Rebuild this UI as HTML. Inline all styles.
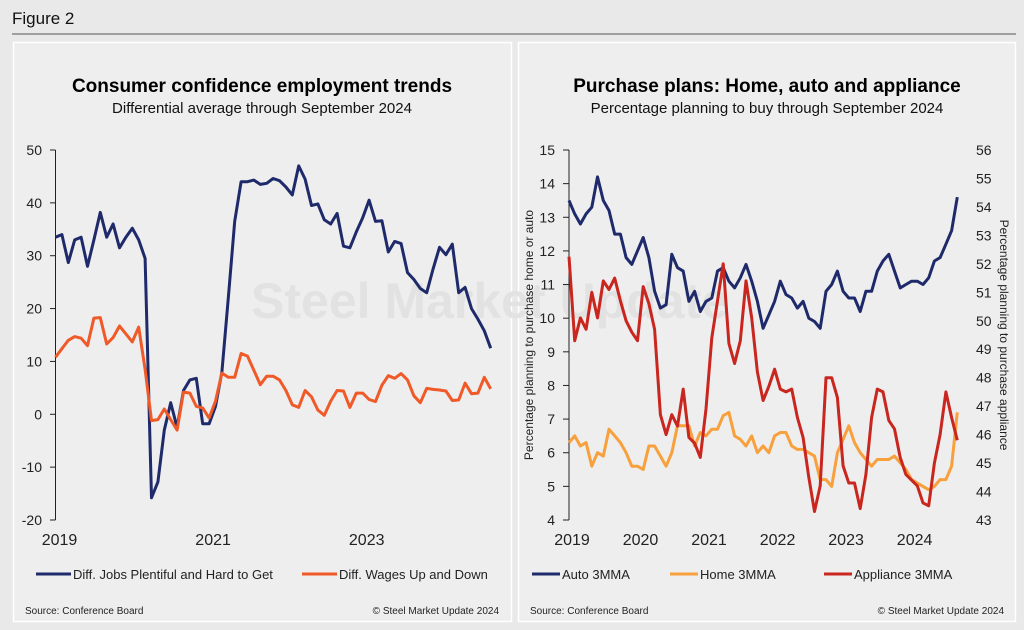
<!DOCTYPE html>
<html><head><meta charset="utf-8"><style>
html,body{margin:0;padding:0;background:#e9e9e9;}
svg{display:block;font-family:"Liberation Sans",Arial,sans-serif;}
</style></head><body>
<svg id="fig" width="1024" height="630" viewBox="0 0 1024 630">
<rect x="0" y="0" width="1024" height="630" fill="#e9e9e9"/>
<text x="12" y="24" font-size="17" fill="#111">Figure 2</text>
<line x1="12" y1="34" x2="1016" y2="34" stroke="#555" stroke-width="1"/>
<rect x="13.5" y="42.5" width="498" height="579" fill="#eeeeee" stroke="#fff" stroke-width="1.5"/>
<rect x="518.5" y="42.5" width="497" height="579" fill="#eeeeee" stroke="#fff" stroke-width="1.5"/>
<text x="490" y="318" font-size="50" font-weight="bold" fill="#e2e2e2" text-anchor="middle">Steel Market Update</text>
<text x="262" y="92" font-size="19" font-weight="bold" text-anchor="middle" fill="#000">Consumer confidence employment trends</text>
<text x="262" y="113" font-size="15" text-anchor="middle" fill="#111">Differential average through September 2024</text>
<text x="767" y="92" font-size="19" font-weight="bold" text-anchor="middle" fill="#000">Purchase plans: Home, auto and appliance</text>
<text x="767" y="113" font-size="15" text-anchor="middle" fill="#111">Percentage planning to buy through September 2024</text>
<g id="L"></g><g id="R"></g>
<g>
<line x1="36" y1="574" x2="71" y2="574" stroke="#1f2a6b" stroke-width="3"/>
<text x="73" y="579" font-size="13" fill="#222">Diff. Jobs Plentiful and Hard to Get</text>
<line x1="302" y1="574" x2="337" y2="574" stroke="#f05a28" stroke-width="3"/>
<text x="339" y="579" font-size="13" fill="#222">Diff. Wages Up and Down</text>
</g>
<g>
<line x1="532" y1="574" x2="560" y2="574" stroke="#1f2a6b" stroke-width="3"/>
<text x="562" y="579" font-size="13" fill="#222">Auto 3MMA</text>
<line x1="670" y1="574" x2="698" y2="574" stroke="#f7a03c" stroke-width="3"/>
<text x="700" y="579" font-size="13" fill="#222">Home 3MMA</text>
<line x1="824" y1="574" x2="852" y2="574" stroke="#c8261e" stroke-width="3"/>
<text x="854" y="579" font-size="13" fill="#222">Appliance 3MMA</text>
</g>
<text x="25" y="614" font-size="10" fill="#222">Source: Conference Board</text>
<text x="499" y="614" font-size="10" fill="#222" text-anchor="end">© Steel Market Update 2024</text>
<text x="530" y="614" font-size="10" fill="#222">Source: Conference Board</text>
<text x="1004" y="614" font-size="10" fill="#222" text-anchor="end">© Steel Market Update 2024</text>
</svg>
<script>
const jobs=[33.5,34,28.7,33,33.5,28,33,38.2,33.5,36,31.5,33.5,35.2,33,29.5,-15.8,-12.8,-3,2.2,-2.5,4.5,6.5,6.8,-1.8,-1.8,1.5,8,22,36.5,44,44,44.3,43.5,43.7,44.6,44.2,43,41.5,47,44.5,39.5,39.8,36.8,36,38,31.8,31.5,34.5,37.2,40.5,36.5,36.6,30.7,32.7,32.3,26.8,25.5,23.8,23,27.5,31.6,30.2,32.2,23,24,20,18,15.8,12.5];
const wages=[10.8,12.4,14,14.7,14.4,13,18.2,18.3,13.3,14.5,16.7,15.2,13.7,16.5,8.5,-1.2,-1,1,-1,-3,4.2,4,1.5,1.2,-0.7,2.5,7.8,7,7,11.5,11,8.3,5.6,7.2,7.2,6.5,4.5,1.8,1.3,4.5,3.3,0.8,-0.2,2.5,4.5,4.4,1.3,4,4,2.8,2.4,5.5,7.3,6.8,7.7,6.5,3.5,2.2,4.9,4.7,4.6,4.4,2.6,2.7,5.9,3.9,4,7,4.8];
const leftTicks=[-20,-10,0,10,20,30,40,50];
const leftYears=["2019","2021","2023"];
const auto=[13.5,13.1,12.8,13.1,13.3,14.2,13.5,13.2,12.5,12.5,11.8,11.6,12,12.4,11.8,10.8,10.3,10.4,11.9,11.5,11.4,10.5,10.8,10.2,10.5,10.6,11.4,11.5,11.1,10.9,11.2,11.6,11.1,10.5,9.7,10.1,10.5,11.1,10.7,10.6,10.3,10.5,10,9.9,9.7,10.8,11,11.4,10.8,10.6,10.6,10.2,10.8,10.8,11.4,11.7,11.9,11.4,10.9,11,11.1,11.1,11,11.2,11.7,11.8,12.2,12.6,13.6];
const home=[6.3,6.5,6.2,6.3,5.6,6,5.9,6.7,6.5,6.3,6,5.6,5.6,5.5,6.2,6.2,5.9,5.6,6,6.8,6.8,6.8,6.2,6.6,6.5,6.7,6.7,7.1,7.2,6.5,6.4,6.2,6.5,6,6.2,6,6.5,6.6,6.6,6.2,6.1,6.1,6,5.9,5.2,5.2,5,6,6.4,6.8,6.3,6,5.8,5.6,5.8,5.8,5.8,5.9,5.7,5.5,5.2,5.1,5,4.9,5,5.2,5.2,5.6,7.2];
const appliance=[52.25,49.3,50.1,49.7,51,50.1,51.4,51.1,51.5,50.7,50,49.6,49.3,51.2,50.6,49.7,46.7,46,46.7,46.3,47.6,45.9,45.7,45.2,46.9,49.4,50.7,52,49.2,48.5,49.3,51.4,50.1,48.2,47.2,47.7,48.3,47.6,47.5,47.6,46.6,45.9,44.5,43.3,44.2,48,48,47.3,44.9,44.3,44.3,43.4,44.6,46.6,47.6,47.5,46.5,46.2,45.2,44.6,44.4,44.2,43.6,43.5,45,46,47.5,46.6,45.8];
const rightLeftTicks=[4,5,6,7,8,9,10,11,12,13,14,15];
const rightRightTicks=[43,44,45,46,47,48,49,50,51,52,53,54,55,56];
const rightYears=["2019","2020","2021","2022","2023","2024"];

const NS="http://www.w3.org/2000/svg";
function mk(parent,tag,attrs,txt){const e=document.createElementNS(NS,tag);for(const k in attrs)e.setAttribute(k,attrs[k]);if(txt!==undefined)e.textContent=txt;parent.appendChild(e);return e;}

// Left chart
const L=document.getElementById('L');
const lx=i=>55.5+i*6.4, ly=v=>520-(v+20)*370/70;
mk(L,'line',{x1:55.5,y1:150,x2:55.5,y2:520,stroke:'#222','stroke-width':1});
leftTicks.forEach(t=>{mk(L,'line',{x1:50,y1:ly(t),x2:55.5,y2:ly(t),stroke:'#222'});
 const e=mk(L,'text',{x:42,y:ly(t)+5,'font-size':14,'text-anchor':'end',fill:'#222'},String(t));
 });
leftYears.forEach((y,k)=>{const e=mk(L,'text',{x:lx(k*24)+4,y:545,'font-size':16,'text-anchor':'middle',fill:'#222'},y);
 });
function line(parent,arr,fx,fy,color,name){const p=mk(parent,'polyline',{points:arr.map((v,i)=>fx(i).toFixed(1)+','+fy(v).toFixed(1)).join(' '),fill:'none',stroke:color,'stroke-width':3,'stroke-linejoin':'round'});
 }
line(L,jobs,lx,ly,'#1f2a6b','jobs-line');
line(L,wages,lx,ly,'#f05a28','wages-line');

// Right chart
const R=document.getElementById('R');
const rx=i=>569+i*5.71, ryl=v=>520-(v-4)*370/11, ryr=v=>520-(v-43)*370/13;
mk(R,'line',{x1:569,y1:150,x2:569,y2:520,stroke:'#222'});
rightLeftTicks.forEach(t=>{mk(R,'line',{x1:563,y1:ryl(t),x2:569,y2:ryl(t),stroke:'#222'});
 const e=mk(R,'text',{x:555,y:ryl(t)+5,'font-size':14,'text-anchor':'end',fill:'#222'},String(t));
 });
rightRightTicks.forEach(t=>{const e=mk(R,'text',{x:976,y:ryr(t)+5,'font-size':14,'text-anchor':'start',fill:'#222'},String(t));
 });
rightYears.forEach((y,k)=>{const e=mk(R,'text',{x:rx(k*12)+3,y:545,'font-size':16,'text-anchor':'middle',fill:'#222'},y);
 });
const t1=mk(R,'text',{x:0,y:0,'font-size':12,'text-anchor':'middle',fill:'#222',transform:'translate(533,335) rotate(-90)'},'Percentage planning to purchase home or auto');

const t2=mk(R,'text',{x:0,y:0,'font-size':12,'text-anchor':'middle',fill:'#222',transform:'translate(1000,335) rotate(90)'},'Percentage planning to purchase appliance');

line(R,auto,rx,ryl,'#1f2a6b','auto-line');
line(R,home,rx,ryl,'#f7a03c','home-line');
line(R,appliance,rx,ryr,'#c8261e','appliance-line');
</script>
</body></html>
